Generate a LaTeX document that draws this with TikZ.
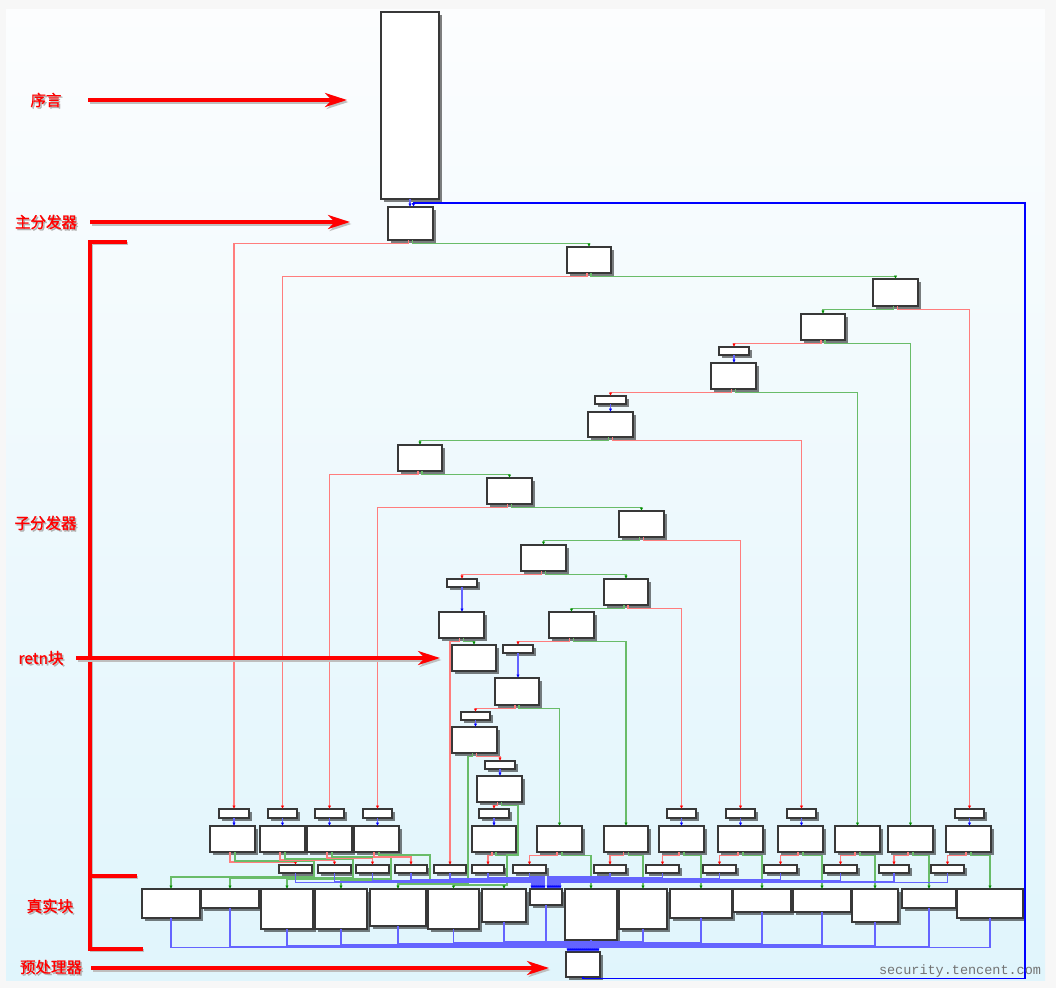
\documentclass[tikz,border=0pt]{standalone}
\usepackage{fontspec}
\newfontfamily\cjk[FakeBold=1.2]{Noto Sans CJK SC}
\newfontfamily\wmfont{Liberation Mono}
\usetikzlibrary{arrows.meta,shadows}
\definecolor{edred}{RGB}{255,125,125}
\definecolor{edgreen}{RGB}{105,188,105}
\definecolor{edblue}{RGB}{100,100,255}
\definecolor{tipgreen}{RGB}{0,140,0}
\definecolor{panelTop}{RGB}{252,253,254}
\definecolor{panelBot}{RGB}{224,245,252}
\definecolor{outerbg}{RGB}{247,247,247}
\newcommand\mkbox[5]{\node[blk,minimum width={(#4-#2)*1pt},minimum height={(#5-#3)*1pt}] (#1) at ({(#2+#4)/2},{(#3+#5)/2}) {};}
\tikzset{
 blk/.style={draw=black!78,line width=1.1pt,fill=white,inner sep=0pt,outer sep=0pt,
   drop shadow={shadow xshift=2.8pt,shadow yshift=-2.8pt,opacity=0.5,fill=black}},
 er/.style={draw=edred,line width=1.4pt,-{Latex[length=3.5pt,width=3.5pt,color=red]}},
 eg/.style={draw=edgreen,line width=1.4pt,-{Latex[length=3.5pt,width=3.5pt,color=tipgreen]}},
 eb/.style={draw=edblue,line width=1.4pt,-{Latex[length=3.5pt,width=3.5pt,color=blue]}},
 ebb/.style={draw=edblue,line width=1.5pt,-{Latex[length=3.5pt,width=3.5pt,color=blue]}},
 loopb/.style={draw=blue,line width=1.9pt,-{Latex[length=4pt,width=4pt]}},
 lab/.style={text=red,font=\cjk\fontsize{15.5}{16}\selectfont,inner sep=0pt},
 labsh/.style={text=black!30,font=\cjk\fontsize{15.5}{16}\selectfont,inner sep=0pt},
 bigar/.style={draw=red,line width=3.5pt,-{Stealth[length=22pt,width=14pt,inset=7pt]}},
 bigsh/.style={draw=black!25,line width=3.5pt,-{Stealth[length=22pt,width=14pt,inset=7pt]}},
 brk/.style={draw=red,line width=3.5pt},
 brksh/.style={draw=black!25,line width=3.5pt},
}
\begin{document}
\begin{tikzpicture}[x=1pt,y=-1pt]
\useasboundingbox (0,0) rectangle (1056,988);
\fill[outerbg] (0,0) rectangle (1056,988);
\shade[top color=panelTop,bottom color=panelBot] (6,9) rectangle (1045,980);

% ---------- blocks ----------
\mkbox{P}{381}{12}{439}{199}
\mkbox{D0}{388}{207}{433}{240}
\mkbox{D1}{567}{247}{611}{273}
\mkbox{D2}{873}{279}{918}{306}
\mkbox{D3}{801}{314}{845}{340}
\mkbox{S1}{719}{347}{749}{355}
\mkbox{D4}{711}{363}{756}{389}
\mkbox{S2}{595}{396}{626}{404}
\mkbox{D5}{588}{412}{633}{437}
\mkbox{D6}{398}{445}{442}{471}
\mkbox{D7}{487}{478}{532}{504}
\mkbox{D8}{619}{511}{664}{537}
\mkbox{D9}{521}{545}{566}{571}
\mkbox{S3}{447}{579}{477}{587}
\mkbox{D10}{604}{579}{648}{605}
\mkbox{RB}{439}{612}{484}{638}
\mkbox{D11}{549}{612}{594}{638}
\mkbox{RT}{452}{645}{496}{671}
\mkbox{S4}{503}{645}{533}{653}
\mkbox{D12}{495}{678}{539}{705}
\mkbox{S5}{461}{712}{490}{720}
\mkbox{D13}{452}{727}{497}{753}
\mkbox{S6}{485}{761}{515}{769}
\mkbox{D14}{477}{776}{522}{802}
\mkbox{S7}{479}{809}{509}{818}
\mkbox{D15}{472}{826}{516}{852}
\mkbox{Sa1}{219}{809}{249}{818}
\mkbox{Sa2}{268}{809}{297}{818}
\mkbox{Sa3}{315}{809}{344}{818}
\mkbox{Sa4}{363}{809}{392}{818}
\mkbox{Ba1}{210}{826}{255}{852}
\mkbox{Ba2}{260}{826}{305}{852}
\mkbox{Ba3}{307}{826}{352}{852}
\mkbox{Ba4}{354}{826}{399}{852}
\mkbox{Bb1}{537}{826}{582}{852}
\mkbox{Bb2}{604}{826}{648}{852}
\mkbox{Sc1}{667}{809}{696}{818}
\mkbox{Sc2}{726}{809}{755}{818}
\mkbox{Sc3}{787}{809}{816}{818}
\mkbox{Sc4}{955}{809}{984}{818}
\mkbox{Bc1}{659}{826}{704}{852}
\mkbox{Bc2}{718}{826}{763}{852}
\mkbox{Bc3}{778}{826}{823}{852}
\mkbox{Bc4}{835}{826}{880}{852}
\mkbox{Bc5}{888}{826}{933}{852}
\mkbox{Bc6}{946}{826}{991}{852}
\mkbox{Sb1}{279}{865}{312}{873}
\mkbox{Sb2}{318}{865}{351}{873}
\mkbox{Sb3}{356}{865}{389}{873}
\mkbox{Sb4}{395}{865}{427}{873}
\mkbox{Sb5}{434}{865}{466}{873}
\mkbox{Sb6}{472}{865}{504}{873}
\mkbox{Sb7}{513}{865}{546}{873}
\mkbox{Sb8}{594}{865}{626}{873}
\mkbox{Sb9}{646}{865}{679}{873}
\mkbox{Sb10}{703}{865}{736}{873}
\mkbox{Sb11}{764}{865}{797}{873}
\mkbox{Sb12}{824}{865}{857}{873}
\mkbox{Sb13}{879}{865}{909}{873}
\mkbox{Sb14}{931}{865}{964}{873}
\mkbox{R1}{142}{889}{200}{918}
\mkbox{R2}{201}{889}{259}{908}
\mkbox{R3}{261}{889}{313}{929}
\mkbox{R4}{315}{889}{367}{929}
\mkbox{R5}{370}{889}{426}{926}
\mkbox{R6}{428}{889}{479}{929}
\mkbox{R7}{482}{889}{526}{922}
\mkbox{R8}{530}{889}{562}{905}
\mkbox{R9}{565}{889}{617}{940}
\mkbox{R10}{619}{889}{667}{929}
\mkbox{R11}{670}{889}{732}{918}
\mkbox{R12}{733}{889}{791}{912}
\mkbox{R13}{793}{889}{851}{912}
\mkbox{R14}{852}{889}{898}{922}
\mkbox{R15}{902}{889}{956}{908}
\mkbox{R16}{957}{889}{1023}{918}
\mkbox{PP}{566}{952}{600}{977}

% ---------- short blue edges ----------
\draw[eb] (P.south) -- (P.south |- D0.north);
\foreach \a/\b in {S1/D4,S2/D5,S3/RB,S4/D12,S5/D13,S6/D14,S7/D15,Sa1/Ba1,Sa2/Ba2,Sa3/Ba3,Sa4/Ba4,Sc1/Bc1,Sc2/Bc2,Sc3/Bc3,Sc4/Bc6}
  \draw[eb] (\a.south) -- (\a.south |- \b.north);

% ---------- loop back ----------
\draw[loopb] (PP.south) -- ++(0,1.5) -| (1025,203) -| ([xshift=3pt]D0.north);

% ---------- dispatcher chain ----------
\draw[er] ([xshift=-2pt]D0.south) -- ++(0,3.5) -| (Sa1.north);
\draw[eg] ([xshift=2pt]D0.south) -- ++(0,3.5) -| (D1.north);
\draw[er] ([xshift=-2pt]D1.south) -- ++(0,3.5) -| (Sa2.north);
\draw[eg] ([xshift=2pt]D1.south) -- ++(0,3.5) -| (D2.north);
\draw[eg] ([xshift=-2pt]D2.south) -- ++(0,3.5) -| (D3.north);
\draw[er] ([xshift=2pt]D2.south) -- ++(0,3.5) -| (Sc4.north);
\draw[er] ([xshift=-2pt]D3.south) -- ++(0,3.5) -| (S1.north);
\draw[eg] ([xshift=2pt]D3.south) -- ++(0,3.5) -| (Bc5.north);
\draw[er] ([xshift=-2pt]D4.south) -- ++(0,3.5) -| (S2.north);
\draw[eg] ([xshift=2pt]D4.south) -- ++(0,3.5) -| (Bc4.north);
\draw[eg] ([xshift=-2pt]D5.south) -- ++(0,3.5) -| (D6.north);
\draw[er] ([xshift=2pt]D5.south) -- ++(0,3.5) -| (Sc3.north);
\draw[er] ([xshift=-2pt]D6.south) -- ++(0,3.5) -| (Sa3.north);
\draw[eg] ([xshift=2pt]D6.south) -- ++(0,3.5) -| (D7.north);
\draw[er] ([xshift=-2pt]D7.south) -- ++(0,3.5) -| (Sa4.north);
\draw[eg] ([xshift=2pt]D7.south) -- ++(0,3.5) -| (D8.north);
\draw[eg] ([xshift=-2pt]D8.south) -- ++(0,3.5) -| (D9.north);
\draw[er] ([xshift=2pt]D8.south) -- ++(0,3.5) -| (Sc2.north);
\draw[er] ([xshift=-2pt]D9.south) -- ++(0,3.5) -| (S3.north);
\draw[eg] ([xshift=2pt]D9.south) -- ++(0,3.5) -| (D10.north);
\draw[eg] ([xshift=-2pt]D10.south) -- ++(0,3.5) -| (D11.north);
\draw[er] ([xshift=2pt]D10.south) -- ++(0,3.5) -| (Sc1.north);
\draw[er] ([xshift=-2pt]D11.south) -- ++(0,3.5) -| (S4.north);
\draw[eg] ([xshift=2pt]D11.south) -- ++(0,3.5) -| (Bb2.north);
\draw[er] ([xshift=-2pt]RB.south) -- ++(0,3.5) -| (Sb5.north);
\draw[eg] ([xshift=2pt]RB.south) -- ++(0,3.5) -| (RT.north);
\draw[er] ([xshift=-2pt]D12.south) -- ++(0,3.5) -| (S5.north);
\draw[eg] ([xshift=2pt]D12.south) -- ++(0,3.5) -| (Bb1.north);
\draw[eg] ([xshift=-2pt]D13.south) -- ++(0,3.5) -| (468,884) -| (R5.north);
\draw[er] ([xshift=2pt]D13.south) -- ++(0,3.5) -| (S6.north);
\draw[er] ([xshift=-2pt]D14.south) -- ++(0,3.5) -| (S7.north);
\draw[eg] ([xshift=2pt]D14.south) -- ++(0,3.5) -| (518,855) -| (507,885) -| (R6.north);
\draw[er] ([xshift=-2pt]D15.south) -- ++(0,3.5) -| (Sb6.north);
\draw[eg] ([xshift=2pt]D15.south) -- ++(0,3.5) -| (507,885) -| (R7.north);

% ---------- left condition blocks ----------
\draw[er] ([xshift=-2.5pt]Ba1.south) -- ++(0,10) -| (Sb1.north);
\draw[eg] ([xshift=2.5pt]Ba1.south) -- ++(0,9) -| (314,877) -| (R1.north);
\draw[er] ([xshift=-2.5pt]Ba2.south) -- ++(0,8) -| (Sb2.north);
\draw[eg] ([xshift=2.5pt]Ba2.south) -- ++(0,7) -| (353,878) -| (R2.north);
\draw[er] ([xshift=-2.5pt]Ba3.south) -- ++(0,6) -| (Sb3.north);
\draw[eg] ([xshift=2.5pt]Ba3.south) -- ++(0,5) -| (391,879) -| (R3.north);
\draw[er] ([xshift=-2.5pt]Ba4.south) -- ++(0,5) -| (Sb4.north);
\draw[eg] ([xshift=2.5pt]Ba4.south) -- ++(0,3) -| (430,881) -| (R4.north);

% ---------- right condition blocks ----------
\foreach \b/\s/\r in {Bb1/Sb7/R9,Bb2/Sb8/R10,Bc1/Sb9/R11,Bc2/Sb10/R12,Bc3/Sb11/R13,Bc4/Sb12/R14,Bc5/Sb13/R15,Bc6/Sb14/R16}{
  \draw[er] ([xshift=-2.5pt]\b.south) -- ++(0,3.5) -| (\s.north);
  \draw[eg] ([xshift=2.5pt]\b.south) -- ++(0,3.5) -| (\r.north);
}

% ---------- state updates to R8 ----------
\foreach \n/\dx/\yy in {Sb1/-14/882.5,Sb2/-12/881.6,Sb3/-10/880.7,Sb4/-8/879.8,Sb5/-6/878.9,Sb6/-4/878,Sb7/-2/877.2,Sb8/2/877.2,Sb9/4/878,Sb10/6/878.9,Sb11/8/879.8,Sb12/10/880.7,Sb13/12/881.6,Sb14/14/882.5}
  \draw[ebb] (\n.south) -- (\n.south |- 0,\yy) -| ([xshift=\dx pt]R8.north);

% ---------- real blocks to preprocessor ----------
\foreach \n/\dx/\yy in {R1/-15/947.5,R2/-13/946.6,R3/-11/945.7,R4/-9/944.8,R5/-7/943.9,R6/-5/943,R7/-3/942.2,R8/-1/941.5,R9/1/941.5,R10/3/942.2,R11/5/943,R12/7/943.9,R13/9/944.8,R14/11/945.7,R15/13/946.6,R16/15/947.5}
  \draw[ebb] (\n.south) -- (\n.south |- 0,\yy) -| ([xshift=\dx pt]PP.north);

% ---------- annotations ----------
\draw[brksh] (128,243.5) -- (91.5,243.5) -- (91.5,950.5) -- (144,950.5);
\draw[brksh] (91.5,877.5) -- (138,877.5);
\draw[brk] (126.5,242) -- (90,242) -- (90,949) -- (142.5,949);
\draw[brk] (90,876) -- (136.5,876);

\coordinate (A1s) at (88,100);  \coordinate (A1e) at (347,100);
\coordinate (A2s) at (90,222);  \coordinate (A2e) at (350,222);
\coordinate (A3s) at (76,658);  \coordinate (A3e) at (440,658);
\coordinate (A4s) at (91,968);  \coordinate (A4e) at (549,968);
\foreach \i in {1,2,3,4}{
  \draw[bigsh] ([shift={(1.5,2)}]A\i s) -- ([shift={(1.5,2)}]A\i e);
  \draw[bigar] (A\i s) -- (A\i e);
}

\node[labsh] (L1s) at (47.5,101.5) {序言};
\node[lab] (L1) at (46,100) {序言};
\node[labsh] (L2s) at (47.5,223.5) {主分发器};
\node[lab] (L2) at (46,222) {主分发器};
\node[labsh] (L3s) at (47,524.5) {子分发器};
\node[lab] (L3) at (45.5,523) {子分发器};
\node[labsh] (L4s) at (42.5,659.5) {retn块};
\node[lab] (L4) at (41,658) {retn块};
\node[labsh] (L5s) at (51.5,907.5) {真实块};
\node[lab] (L5) at (50,906) {真实块};
\node[labsh] (L6s) at (52.5,968.5) {预处理器};
\node[lab] (L6) at (51,967) {预处理器};

\node[font=\wmfont\fontsize{13.5}{14}\selectfont,text=black!55,inner sep=0pt] (WM) at (960,971) {security.tencent.com};
\end{tikzpicture}
\end{document}
